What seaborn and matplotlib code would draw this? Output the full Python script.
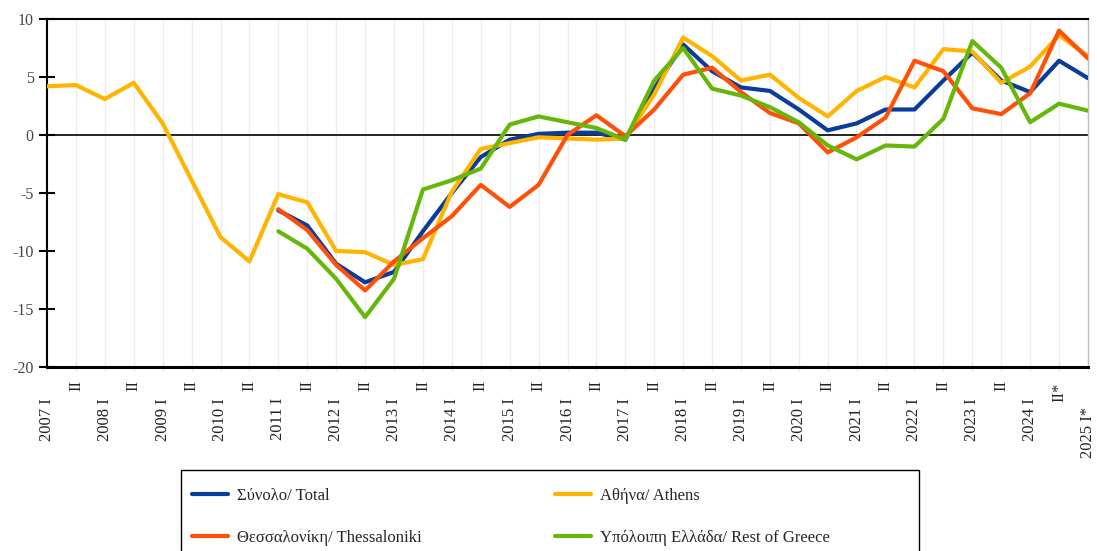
import numpy as np
import pandas as pd
import matplotlib
matplotlib.use("Agg")
import matplotlib.pyplot as plt
from matplotlib.patches import Rectangle
import seaborn as sns

# Half-year periods, 2007 I ... 2025 I*
period_labels = []
for yr in range(2007, 2025):
    period_labels += [f"{yr} I", "II"]
period_labels[-1] = "II*"
period_labels.append("2025 I*")

nan = np.nan
athens = [4.2, 4.3, 3.1, 4.5, 1.0, -3.9, -8.8, -10.9, -5.1, -5.8, -10.0, -10.1,
          -11.2, -10.7, -4.9, -1.2, -0.7, -0.2, -0.3, -0.4, -0.3, 3.5, 8.4, 6.8,
          4.7, 5.2, 3.2, 1.6, 3.8, 5.0, 4.1, 7.4, 7.2, 4.5, 5.9, 8.6, 6.8]
total = [nan] * 8 + [-6.5, -7.8, -11.1, -12.7, -11.8, -8.3, -5.0, -1.9, -0.4, 0.1,
                     0.2, 0.2, -0.4, 4.0, 7.8, 5.5, 4.1, 3.8, 2.2, 0.4, 1.0, 2.2,
                     2.2, 4.7, 7.1, 4.7, 3.7, 6.4, 4.9]
thessaloniki = [nan] * 8 + [-6.4, -8.2, -11.2, -13.4, -10.9, -8.9, -7.0, -4.3, -6.2,
                            -4.3, 0.0, 1.7, -0.1, 2.2, 5.2, 5.8, 3.7, 1.9, 1.0, -1.5,
                            -0.2, 1.5, 6.4, 5.5, 2.3, 1.8, 3.6, 9.0, 6.6]
rest_of_greece = [nan] * 8 + [-8.3, -9.8, -12.4, -15.7, -12.4, -4.7, -3.9, -2.9, 0.9,
                              1.6, 1.1, 0.6, -0.4, 4.7, 7.5, 4.0, 3.4, 2.4, 1.1, -0.9,
                              -2.1, -0.9, -1.0, 1.4, 8.1, 5.8, 1.1, 2.7, 2.1]

series_names = ["Σύνολο/ Total", "Αθήνα/ Athens",
                "Θεσσαλονίκη/ Thessaloniki", "Υπόλοιπη Ελλάδα/ Rest of Greece"]
series_colors = ["#0A3C9B", "#FFB400", "#FF5008", "#66B70A"]

wide = pd.DataFrame({
    "t": np.arange(len(period_labels)),
    series_names[0]: total,
    series_names[1]: athens,
    series_names[2]: thessaloniki,
    series_names[3]: rest_of_greece,
})
long = wide.melt(id_vars="t", var_name="series", value_name="value").dropna()

sns.set_style("white")
serif = ["Liberation Serif", "DejaVu Serif"]
plt.rcParams["font.family"] = serif
plt.rcParams["axes.unicode_minus"] = False

fig = plt.figure(figsize=(10.97, 5.51), dpi=100)
ax = fig.add_axes([47 / 1097, 1 - 367 / 551, (1088 - 47) / 1097, (367 - 19) / 551])

ax.grid(axis="x", color="#ededed", lw=1, zorder=0)
ax.axhline(0, color="black", lw=1.2, zorder=1)

sns.lineplot(data=long, x="t", y="value", hue="series", hue_order=series_names,
             palette=dict(zip(series_names, series_colors)), linewidth=3,
             estimator=None, ax=ax, zorder=3)

ax.set_xlim(0, len(period_labels) - 1)
ax.set_ylim(-20, 10)
ax.set_yticks([10, 5, 0, -5, -10, -15, -20])
ax.set_xlabel("")
ax.set_ylabel("")

for side in ["top", "left"]:
    ax.spines[side].set_color("black")
    ax.spines[side].set_linewidth(1.5)
ax.spines["bottom"].set_color("black")
ax.spines["bottom"].set_linewidth(2.2)
ax.spines["right"].set_color("#bfbfbf")
ax.spines["right"].set_linewidth(1.0)

ax.tick_params(axis="y", direction="inout", length=11, width=1.5, color="black",
               labelsize=11.5, labelcolor="#444444", pad=4, left=True)
ax.tick_params(axis="x", direction="out", length=3, width=1, color="#e6e6e6",
               labelsize=12, labelcolor="#222222", bottom=True)

ax.set_xticks(np.arange(len(period_labels)))
ax.set_xticklabels(period_labels, rotation=90, va="top", ha="center")
for tick, lab in zip(ax.xaxis.get_major_ticks(), period_labels):
    if lab == "II":
        tick.set_pad(6.5)
    elif lab == "II*":
        tick.set_pad(8)
    elif lab.endswith("*"):
        tick.set_pad(26)
    else:
        tick.set_pad(19.5)

# Legend below the plot, two columns, inside a plain black frame
handles, labels = ax.get_legend_handles_labels()
ax.get_legend().remove()
order = [0, 2, 1, 3]
fig.legend([handles[i] for i in order], [labels[i] for i in order],
           ncol=2, loc="upper left", bbox_to_anchor=(180 / 1097, 1 - 476 / 551),
           frameon=False, fontsize=12, handlelength=2.2, handletextpad=0.5,
           columnspacing=8.0, labelspacing=1.6, borderpad=0.2)
fig.patches.append(Rectangle((181 / 1097, -0.05), 738 / 1097, 0.05 + 1 - 470 / 551,
                             transform=fig.transFigure, fill=False,
                             edgecolor="black", lw=1.0))

fig.savefig("out.png", dpi=100)
